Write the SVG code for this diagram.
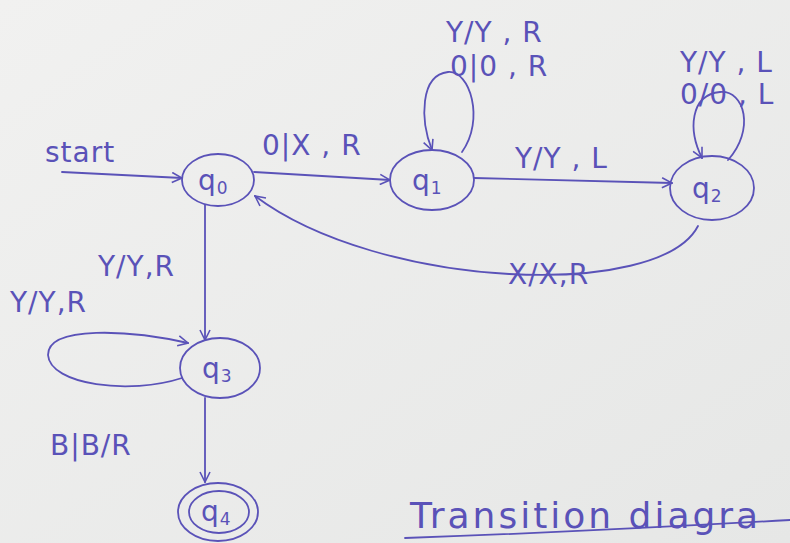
<svg xmlns="http://www.w3.org/2000/svg" width="790" height="543" viewBox="0 0 790 543">
<defs>
<linearGradient id="paper" x1="0" y1="0" x2="1" y2="1">
<stop offset="0" stop-color="#f1f1f0"/>
<stop offset="1" stop-color="#e6e7e6"/>
</linearGradient>
<marker id="arr" viewBox="0 0 12 12" refX="11" refY="6" markerWidth="12" markerHeight="12" markerUnits="userSpaceOnUse" orient="auto">
<path d="M1,1 L11,6 L1,11" fill="none" stroke="#5a52b8" stroke-width="1.6"/>
</marker>
</defs>
<style>
.ink{fill:none;stroke:#5a52b8;stroke-width:1.8;stroke-linecap:round}
.t{font-family:"DejaVu Sans",sans-serif;fill:#5a52b8;font-size:28px;letter-spacing:1px}
.s{font-size:17px}
</style>
<rect width="790" height="543" fill="url(#paper)"/>
<g id="connectors">
<path class="ink" d="M62,172 L182,178" marker-end="url(#arr)"/>
<path class="ink" d="M254,172 L390,180" marker-end="url(#arr)"/>
<path class="ink" d="M474,178 L672,183" marker-end="url(#arr)"/>
<path class="ink" d="M698,226 C660,300 380,290 255,196" marker-end="url(#arr)"/>
<path class="ink" d="M462,152 C485,120 470,70 448,72 C420,75 420,120 432,150" marker-end="url(#arr)"/>
<path class="ink" d="M728,160 C755,130 745,90 720,92 C690,95 688,130 702,158" marker-end="url(#arr)"/>
<path class="ink" d="M205,205 L205,340" marker-end="url(#arr)"/>
<path class="ink" d="M182,378 C130,395 50,385 48,355 C48,325 130,330 188,343" marker-end="url(#arr)"/>
<path class="ink" d="M205,398 L205,482" marker-end="url(#arr)"/>
</g>
<g id="q0"><ellipse class="ink" cx="218" cy="180" rx="36" ry="26"/><text class="t" x="198" y="190">q<tspan class="s" dy="4">0</tspan></text></g>
<g id="q1"><ellipse class="ink" cx="432" cy="180" rx="42" ry="30"/><text class="t" x="412" y="190">q<tspan class="s" dy="4">1</tspan></text></g>
<g id="q2"><ellipse class="ink" cx="712" cy="188" rx="42" ry="32"/><text class="t" x="692" y="198">q<tspan class="s" dy="4">2</tspan></text></g>
<g id="q3"><ellipse class="ink" cx="220" cy="368" rx="40" ry="30"/><text class="t" x="202" y="378">q<tspan class="s" dy="4">3</tspan></text></g>
<g id="q4"><ellipse class="ink" cx="218" cy="512" rx="40" ry="29"/><ellipse class="ink" cx="219" cy="512" rx="30" ry="21"/><text class="t" x="201" y="521">q<tspan class="s" dy="4">4</tspan></text></g>
<g id="labels">
<text class="t" x="45" y="162">start</text>
<text class="t" x="262" y="155">0|X , R</text>
<text class="t" x="515" y="168">Y/Y , L</text>
<text class="t" x="446" y="42">Y/Y , R</text>
<text class="t" x="450" y="76">0|0 , R</text>
<text class="t" x="680" y="72">Y/Y , L</text>
<text class="t" x="680" y="104">0/0 , L</text>
<text class="t" x="508" y="284">X/X,R</text>
<text class="t" x="98" y="276">Y/Y,R</text>
<text class="t" x="10" y="312">Y/Y,R</text>
<text class="t" x="50" y="455">B|B/R</text>
<text class="t" x="410" y="528" style="font-size:36px;letter-spacing:3px">Transition  diagra</text>
</g>
<path class="ink" d="M405,538 C520,534 650,528 790,520"/>
</svg>
